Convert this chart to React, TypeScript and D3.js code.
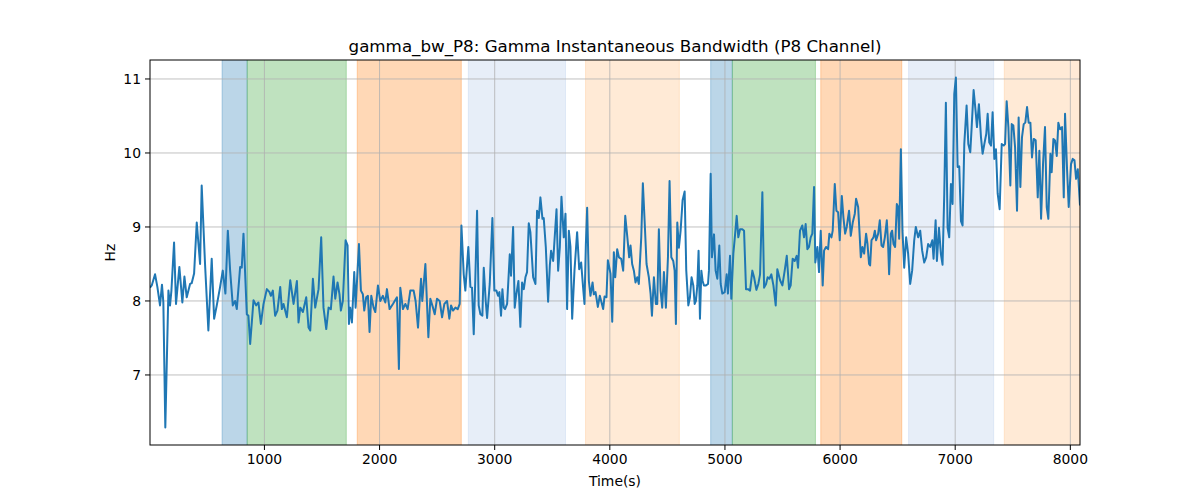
import React from 'react';
import { scaleLinear, line, extent } from 'd3';

// [time (s), bandwidth (Hz)]
const samples: [number, number][] = [
  [6, 8.18], [21, 8.21], [50, 8.36], [70, 8.19], [93, 7.94], [110, 8.22], [122, 7.98], [139, 6.29],
  [166, 8.14], [180, 7.94], [192, 8.14], [215, 8.79], [232, 7.96], [261, 8.46], [287, 7.98], [305, 8.33],
  [325, 8.05], [354, 8.23], [368, 8.24], [389, 8.37], [412, 9.06], [441, 8.5], [455, 9.56], [484, 8.5],
  [513, 7.6], [542, 8.57], [563, 7.76], [586, 7.94], [615, 8.19], [638, 8.41], [661, 8.1], [682, 8.95],
  [702, 8.41], [725, 7.94], [745, 8.0], [760, 7.89], [789, 8.46], [803, 8.45], [818, 8.91], [847, 7.82],
  [861, 7.8], [876, 7.42], [905, 8.01], [928, 7.94], [948, 7.98], [969, 7.69], [992, 7.96], [1021, 8.16],
  [1044, 8.12], [1056, 8.07], [1073, 8.14], [1093, 7.8], [1113, 7.87], [1137, 8.19], [1151, 7.89], [1166, 7.96],
  [1195, 7.78], [1224, 8.28], [1253, 7.96], [1282, 8.27], [1296, 7.71], [1311, 7.91], [1334, 7.85], [1363, 8.05],
  [1383, 7.64], [1398, 7.6], [1421, 8.3], [1441, 7.91], [1470, 8.16], [1493, 8.86], [1513, 7.91], [1537, 7.62],
  [1557, 7.91], [1577, 7.89], [1600, 8.33], [1615, 8.03], [1635, 8.25], [1652, 8.09], [1664, 7.87], [1681, 8.0],
  [1705, 8.82], [1722, 8.75], [1734, 7.69], [1745, 7.91], [1760, 7.71], [1780, 8.39], [1792, 7.91], [1821, 8.77],
  [1838, 8.14], [1855, 8.09], [1867, 7.87], [1884, 8.05], [1899, 8.07], [1913, 7.58], [1928, 8.07], [1948, 7.91],
  [1963, 7.85], [1986, 8.21], [2006, 8.0], [2029, 8.07], [2050, 7.98], [2064, 8.16], [2087, 7.89], [2116, 7.96],
  [2151, 8.05], [2168, 7.08], [2180, 8.18], [2203, 7.89], [2224, 7.96], [2244, 7.89], [2267, 8.14], [2296, 8.14],
  [2313, 8.0], [2334, 7.64], [2360, 8.3], [2371, 8.0], [2398, 8.5], [2424, 7.51], [2441, 8.03], [2464, 7.91],
  [2479, 7.82], [2499, 8.03], [2522, 8.0], [2543, 7.78], [2563, 7.96], [2586, 8.0], [2606, 7.76], [2621, 7.94],
  [2638, 7.87], [2659, 7.91], [2679, 7.89], [2696, 7.96], [2711, 9.02], [2731, 8.36], [2745, 8.14], [2771, 8.73],
  [2789, 8.19], [2803, 8.18], [2818, 7.55], [2832, 8.32], [2847, 9.22], [2861, 7.94], [2876, 7.82], [2893, 7.8],
  [2905, 8.45], [2922, 8.0], [2934, 7.77], [2957, 8.23], [2980, 9.12], [2997, 8.14], [3015, 8.14], [3029, 8.07],
  [3041, 8.12], [3055, 7.8], [3067, 8.16], [3079, 7.91], [3090, 7.89], [3108, 7.96], [3131, 8.63], [3142, 8.34],
  [3160, 9.0], [3174, 7.91], [3186, 8.07], [3206, 8.27], [3223, 7.65], [3238, 8.25], [3253, 8.16], [3267, 8.32],
  [3281, 8.39], [3296, 9.05], [3310, 8.93], [3334, 8.32], [3354, 8.23], [3368, 9.22], [3383, 9.12], [3397, 9.4],
  [3415, 9.11], [3426, 9.12], [3444, 8.73], [3464, 7.99], [3479, 8.48], [3490, 8.68], [3508, 8.54], [3537, 9.24],
  [3551, 8.41], [3566, 8.73], [3580, 9.41], [3600, 8.86], [3615, 9.18], [3629, 7.89], [3644, 8.95], [3658, 8.73],
  [3673, 7.76], [3693, 8.41], [3716, 8.93], [3734, 8.43], [3751, 8.52], [3768, 8.18], [3780, 7.96], [3792, 8.77],
  [3803, 9.26], [3818, 8.27], [3832, 8.07], [3850, 8.25], [3861, 8.09], [3876, 8.12], [3896, 7.92], [3913, 8.07],
  [3928, 7.98], [3942, 7.89], [3954, 8.06], [3971, 8.05], [3983, 8.55], [4006, 8.37], [4021, 7.72], [4035, 8.66],
  [4047, 8.32], [4064, 8.7], [4079, 8.59], [4099, 8.57], [4116, 8.41], [4134, 9.15], [4151, 8.88], [4168, 8.59],
  [4180, 8.75], [4194, 8.5], [4209, 8.41], [4223, 8.25], [4238, 8.32], [4252, 8.23], [4273, 8.86], [4287, 9.59],
  [4302, 9.09], [4319, 8.5], [4339, 8.32], [4354, 8.1], [4366, 7.8], [4383, 8.32], [4400, 7.96], [4412, 7.96],
  [4426, 8.97], [4441, 8.14], [4455, 7.91], [4470, 8.39], [4487, 7.91], [4505, 8.59], [4519, 9.62], [4534, 8.59],
  [4551, 8.54], [4563, 8.41], [4574, 7.69], [4586, 9.06], [4600, 8.72], [4615, 8.95], [4632, 9.36], [4650, 9.48],
  [4664, 8.41], [4682, 7.94], [4696, 8.05], [4710, 8.32], [4725, 8.21], [4737, 7.96], [4748, 8.0], [4760, 8.21],
  [4771, 8.68], [4783, 7.76], [4795, 8.41], [4806, 8.27], [4818, 8.21], [4835, 8.21], [4853, 8.23], [4861, 8.41],
  [4876, 9.72], [4887, 8.59], [4905, 8.9], [4919, 8.41], [4934, 8.3], [4951, 8.75], [4963, 8.23], [4977, 8.1],
  [4998, 8.12], [5015, 8.36], [5026, 8.1], [5044, 8.61], [5055, 8.03], [5073, 8.64], [5087, 8.88], [5102, 9.15],
  [5116, 8.86], [5131, 8.97], [5151, 8.97], [5166, 8.95], [5183, 8.16], [5200, 8.16], [5218, 8.14], [5238, 8.41],
  [5253, 8.32], [5273, 8.15], [5290, 8.23], [5305, 8.36], [5325, 9.47], [5340, 8.18], [5357, 8.23], [5371, 8.32],
  [5386, 8.3], [5403, 8.36], [5421, 8.21], [5441, 7.94], [5455, 8.43], [5479, 8.28], [5499, 8.21], [5519, 8.41],
  [5537, 8.61], [5557, 8.16], [5571, 8.21], [5588, 8.57], [5606, 8.54], [5623, 8.61], [5635, 8.45], [5652, 8.95],
  [5672, 9.02], [5687, 8.86], [5701, 9.04], [5716, 8.7], [5730, 8.73], [5745, 8.86], [5759, 8.91], [5774, 9.54],
  [5785, 8.52], [5803, 8.73], [5817, 8.39], [5832, 8.95], [5849, 8.21], [5861, 8.68], [5878, 8.73], [5896, 8.7],
  [5907, 8.91], [5925, 8.86], [5936, 8.95], [5954, 9.58], [5968, 9.22], [5983, 9.2], [5997, 8.82], [6015, 9.42],
  [6029, 9.13], [6044, 8.91], [6058, 9.0], [6078, 9.22], [6093, 8.88], [6110, 9.06], [6128, 9.18], [6139, 9.38],
  [6157, 9.27], [6168, 8.95], [6180, 8.59], [6194, 8.73], [6209, 8.64], [6226, 8.91], [6238, 8.77], [6252, 8.5],
  [6261, 8.48], [6273, 8.82], [6290, 8.86], [6302, 8.95], [6313, 8.82], [6331, 8.91], [6345, 9.09], [6360, 8.75],
  [6374, 8.73], [6389, 8.86], [6406, 9.09], [6417, 8.77], [6426, 8.36], [6441, 8.91], [6452, 8.95], [6464, 8.77],
  [6478, 8.73], [6493, 9.31], [6504, 9.27], [6513, 8.84], [6528, 10.05], [6542, 8.95], [6557, 8.45], [6574, 8.86],
  [6591, 8.64], [6609, 8.23], [6626, 8.41], [6644, 8.82], [6658, 9.0], [6678, 8.86], [6696, 8.95], [6713, 8.68],
  [6731, 8.52], [6748, 8.59], [6765, 8.77], [6783, 8.73], [6801, 8.82], [6812, 8.57], [6830, 9.09], [6841, 8.54],
  [6859, 8.99], [6876, 8.63], [6890, 8.49], [6905, 9.45], [6919, 10.68], [6934, 8.99], [6948, 8.86], [6963, 9.58],
  [6977, 9.31], [6992, 10.8], [7006, 11.02], [7021, 9.81], [7035, 9.82], [7050, 9.08], [7064, 9.02], [7079, 10.12],
  [7099, 10.64], [7114, 10.12], [7131, 10.01], [7143, 10.35], [7160, 10.85], [7177, 10.57], [7189, 10.35], [7206, 10.66],
  [7224, 10.21], [7238, 9.99], [7253, 10.12], [7270, 10.26], [7282, 10.53], [7296, 10.14], [7311, 10.1], [7325, 10.55],
  [7340, 9.92], [7354, 10.05], [7369, 9.45], [7386, 9.24], [7404, 10.12], [7421, 10.1], [7433, 10.12], [7447, 10.7],
  [7462, 10.35], [7479, 9.56], [7491, 10.39], [7505, 10.37], [7520, 10.08], [7537, 9.22], [7551, 10.48], [7566, 9.54],
  [7580, 10.21], [7595, 10.39], [7609, 10.41], [7624, 10.62], [7638, 10.41], [7653, 10.41], [7667, 9.94], [7682, 10.19],
  [7699, 10.17], [7717, 9.4], [7731, 10.03], [7746, 9.11], [7763, 9.85], [7780, 10.35], [7795, 9.27], [7809, 9.11],
  [7827, 9.99], [7838, 9.74], [7853, 10.19], [7867, 10.17], [7882, 9.96], [7896, 10.41], [7911, 10.32], [7928, 10.35],
  [7943, 9.4], [7954, 10.53], [7972, 9.76], [7986, 9.27], [8006, 9.85], [8021, 9.92], [8036, 9.9], [8050, 9.65],
  [8065, 9.78], [8084, 9.29],
];

// shaded intervals
const spanStart = [632, 850, 1806, 2771, 3789, 4876, 5064, 5832, 6595, 7426];
const spanEnd = [850, 1711, 2710, 3615, 4604, 5064, 5786, 6536, 7334, 8084];
const spanKind = ['blue', 'green', 'orange', 'lightblue', 'lightorange', 'blue', 'green', 'orange', 'lightblue', 'lightorange'];

const xTicks = [1000, 2000, 3000, 4000, 5000, 6000, 7000, 8000];
const yTicks = [7, 8, 9, 10, 11];

const palette: Record<string, string> = {
  blue: '#1f77b4',
  green: '#2ca02c',
  orange: '#ff7f0e',
  lightblue: '#aec7e8',
  lightorange: '#ffbb78',
};

const W = 1200, H = 500;
const m = { left: 150, right: 1080, top: 60, bottom: 445 };
const font = 'DejaVu Sans, sans-serif';

const App: React.FC = () => {
  const [x0, x1] = extent(samples, d => d[0]) as [number, number];
  const [v0, v1] = extent(samples, d => d[1]) as [number, number];
  const pad = (v1 - v0) * 0.05;

  const x = scaleLinear().domain([x0, x1]).range([m.left, m.right]);
  const y = scaleLinear().domain([v0 - pad, v1 + pad]).range([m.bottom, m.top]);

  const path = line<[number, number]>()
    .x(d => x(d[0]))
    .y(d => y(d[1]))(samples);

  return (
    <svg width={W} height={H} style={{ position: 'absolute', left: 0, top: 0, background: '#fff' }}>
      <defs>
        <clipPath id="plot">
          <rect x={m.left} y={m.top} width={m.right - m.left} height={m.bottom - m.top} />
        </clipPath>
      </defs>

      <g clipPath="url(#plot)">
        {spanStart.map((s, i) => (
          <rect key={i} x={x(s)} y={m.top - 2} width={x(spanEnd[i]) - x(s)} height={m.bottom - m.top + 4}
            fill={palette[spanKind[i]]} fillOpacity={0.3}
            stroke={palette[spanKind[i]]} strokeOpacity={0.3} strokeWidth={1} />
        ))}
      </g>

      {/* grid */}
      {xTicks.map(t => (
        <line key={'gx' + t} x1={x(t)} x2={x(t)} y1={m.top} y2={m.bottom} stroke="#b0b0b0" strokeWidth={0.8} />
      ))}
      {yTicks.map(t => (
        <line key={'gy' + t} x1={m.left} x2={m.right} y1={y(t)} y2={y(t)} stroke="#b0b0b0" strokeWidth={0.8} />
      ))}

      <path d={path ?? ''} fill="none" stroke="#1f77b4" strokeWidth={2} strokeLinejoin="round" clipPath="url(#plot)" />

      <rect x={m.left} y={m.top} width={m.right - m.left} height={m.bottom - m.top} fill="none" stroke="#000" strokeWidth={1} />

      {xTicks.map(t => (
        <g key={'tx' + t}>
          <line x1={x(t)} x2={x(t)} y1={m.bottom} y2={m.bottom + 5} stroke="#000" />
          <text x={x(t)} y={m.bottom + 19} textAnchor="middle" fontSize={13.9} fontFamily={font}>{t}</text>
        </g>
      ))}
      {yTicks.map(t => (
        <g key={'ty' + t}>
          <line x1={m.left - 5} x2={m.left} y1={y(t)} y2={y(t)} stroke="#000" />
          <text x={m.left - 9} y={y(t) + 5} textAnchor="end" fontSize={13.9} fontFamily={font}>{t}</text>
        </g>
      ))}

      <text x={(m.left + m.right) / 2} y={52} textAnchor="middle" fontSize={16.7} fontFamily={font}>
        gamma_bw_P8: Gamma Instantaneous Bandwidth (P8 Channel)
      </text>
      <text x={(m.left + m.right) / 2} y={486} textAnchor="middle" fontSize={13.9} fontFamily={font}>Time(s)</text>
      <text transform={`translate(115, ${(m.top + m.bottom) / 2}) rotate(-90)`} textAnchor="middle"
        fontSize={13.9} fontFamily={font}>Hz</text>
    </svg>
  );
};

export default App;
